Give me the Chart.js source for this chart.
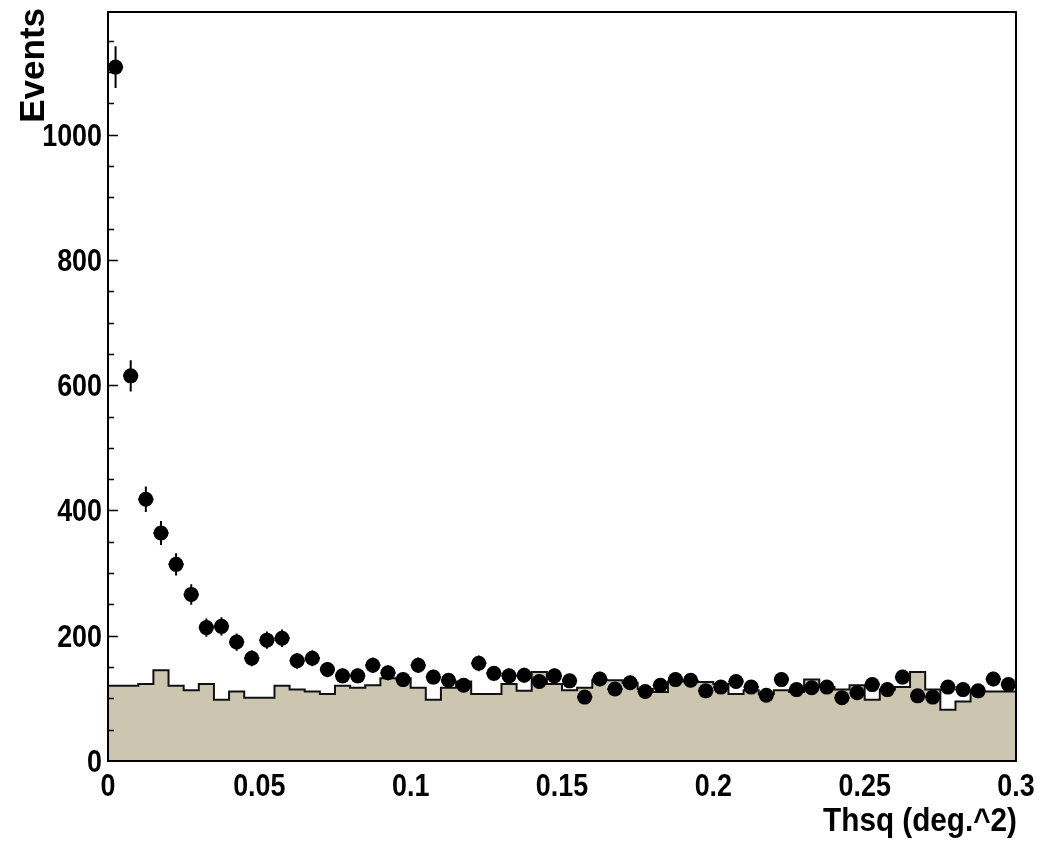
<!DOCTYPE html>
<html>
<head>
<meta charset="utf-8">
<script src="https://cdn.jsdelivr.net/npm/chart.js@4/dist/chart.umd.min.js"></script>
<style>html,body{margin:0;padding:0;background:#fff}</style>
</head>
<body>
<canvas id="c" width="1051" height="848"></canvas>
<script>
// === DATA ===
const binWidth = 0.005; // 60 bins from 0 to 0.3
const dataCounts = [1108,615,418,364,314,266,213,215,190,164,
  193,196,160,164,146,136,136,153,141,130,
  153,134,129,121,156,140,136,137,127,136,
  128,102,131,115,125,111,121,130,129,112,
  118,127,118,105,130,114,117,118,101,109,
  122,114,134,104,102,118,114,112,131,122];
const bkgCounts = [120,120,123,145,120,113,123,98,111,101,
  101,120,114,111,107,120,117,121,132,132,
  117,98,117,127,107,107,123,112,142,123,
  113,117,129,129,125,115,110,127,127,126,
  123,107,113,107,113,110,130,118,114,121,
  98,114,118,142,114,82,95,111,111,111];
const xTickLabels = [0,0.05,0.1,0.15,0.2,0.25,0.3];
const yTickLabels = [0,200,400,600,800,1000];
const yMax = 1196;

const fillColor = "#ccc5af";
const boldFont = "bold 32px 'Liberation Sans',Arial,sans-serif";

// histogram: points at the left edge of each bin, plus closing point
const histPts = bkgCounts.map((v,i)=>({x:i*binWidth,y:v}));
histPts.push({x:bkgCounts.length*binWidth,y:bkgCounts[bkgCounts.length-1]});
const dataPts = dataCounts.map((v,i)=>({x:(i+0.5)*binWidth,y:v}));

// squeezed text, like the ROOT helvetica-bold labels
function squeezed(ctx,txt,x,y,sx,align){
  ctx.save();
  ctx.translate(x,y); ctx.scale(sx,1);
  ctx.textAlign=align; ctx.textBaseline="alphabetic";
  ctx.fillText(txt,0,0);
  ctx.restore();
}

// === ROOT look: frame, inner ticks, error bars, labels ===
const rootStyle = {
  id:"rootStyle",
  beforeDatasetDraw(chart,args){
    if(args.index!==1) return;
    const ctx=chart.ctx, xs=chart.scales.x, ys=chart.scales.y;
    ctx.save();
    ctx.strokeStyle="#000"; ctx.lineWidth=2;
    dataCounts.forEach((v,i)=>{
      const cx=xs.getPixelForValue((i+0.5)*binWidth);
      const e=Math.sqrt(v);
      ctx.beginPath();
      ctx.moveTo(cx,ys.getPixelForValue(v-e));
      ctx.lineTo(cx,ys.getPixelForValue(v+e));
      ctx.moveTo(xs.getPixelForValue(i*binWidth),ys.getPixelForValue(v));
      ctx.lineTo(xs.getPixelForValue((i+1)*binWidth),ys.getPixelForValue(v));
      ctx.stroke();
    });
    ctx.restore();
  },
  afterDraw(chart){
    const ctx=chart.ctx, a=chart.chartArea, xs=chart.scales.x, ys=chart.scales.y;
    ctx.save();
    ctx.strokeStyle="#000"; ctx.lineWidth=2;
    ctx.strokeRect(a.left,a.top,a.right-a.left,a.bottom-a.top);
    // y ticks inside the frame: major every 200, minor every 50
    ctx.lineWidth=1.5;
    ctx.beginPath();
    for(let v=50; v<yMax; v+=50){
      const y=Math.round(ys.getPixelForValue(v))+0.5;
      const len = v%200===0 ? 10 : 6;
      ctx.moveTo(a.left,y); ctx.lineTo(a.left+len,y);
    }
    ctx.stroke();
    ctx.fillStyle="#000";
    ctx.font=boldFont;
    yTickLabels.forEach(v=>{
      squeezed(ctx,String(v),a.left-6,ys.getPixelForValue(v)+11,0.84,"right");
    });
    xTickLabels.forEach(v=>{
      squeezed(ctx,String(v),xs.getPixelForValue(v),a.bottom+35,0.84,"center");
    });
    ctx.font="bold 33px 'Liberation Sans',Arial,sans-serif";
    squeezed(ctx,"Thsq (deg.^2)",1017,831,0.9,"right");
    // y title, rotated, flush with the top
    ctx.font="bold 35px 'Liberation Sans',Arial,sans-serif";
    ctx.translate(44,8);
    ctx.rotate(-Math.PI/2);
    ctx.textAlign="right"; ctx.textBaseline="alphabetic";
    ctx.fillText("Events",0,0);
    ctx.restore();
  }
};

new Chart(document.getElementById("c"),{
  type:"scatter",
  data:{datasets:[
    {type:"line",data:histPts,stepped:true,fill:"origin",backgroundColor:fillColor,
     borderColor:"#111",borderWidth:2,pointRadius:0,order:2},
    {type:"scatter",data:dataPts,pointRadius:7.5,pointBackgroundColor:"#000",
     pointBorderColor:"#000",pointBorderWidth:0,order:1}
  ]},
  options:{
    responsive:false,animation:false,devicePixelRatio:1,
    layout:{padding:{top:12,right:35,left:0,bottom:0}},
    plugins:{legend:{display:false},tooltip:{enabled:false}},
    scales:{
      x:{type:"linear",min:0,max:0.3,
        afterBuildTicks:s=>{s.ticks=xTickLabels.map(v=>({value:v}));},
        afterFit:s=>{s.height=87;s.paddingLeft=0;s.paddingRight=0;},
        grid:{display:false,drawTicks:false},border:{display:false},
        ticks:{display:false}},
      y:{min:0,max:yMax,
        afterBuildTicks:s=>{s.ticks=yTickLabels.map(v=>({value:v}));},
        afterFit:s=>{s.width=108;s.paddingTop=0;s.paddingBottom=0;},
        grid:{display:false,drawTicks:false},border:{display:false},
        ticks:{display:false}}
    }
  },
  plugins:[rootStyle]
});
</script>
</body>
</html>
